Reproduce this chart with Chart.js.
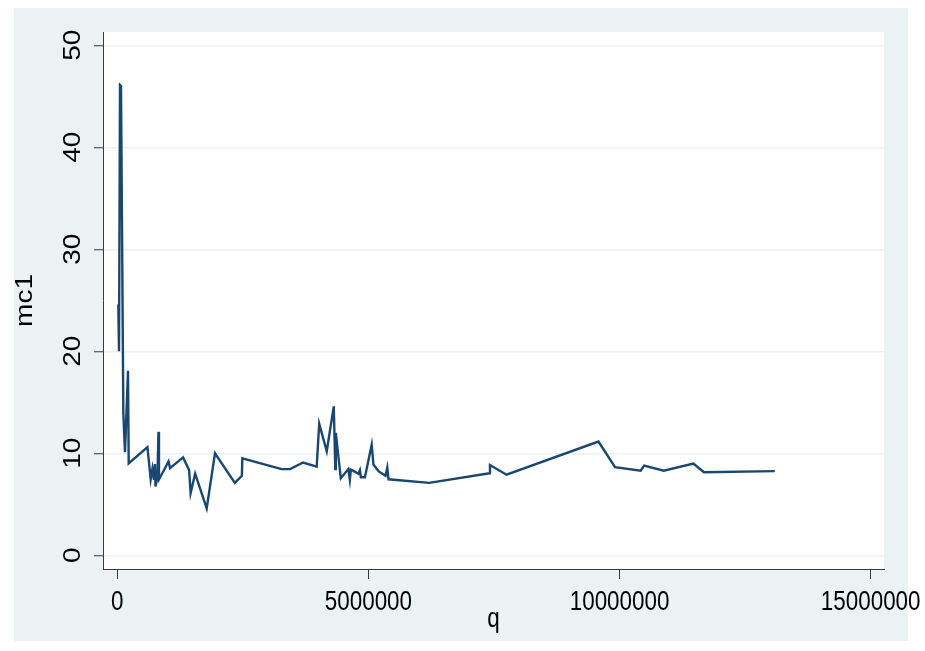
<!DOCTYPE html>
<html>
<head>
<meta charset="utf-8">
<script src="https://cdn.jsdelivr.net/npm/chart.js@4"></script>
<style>
  html, body { margin: 0; padding: 0; background: #ffffff; }
  #wrap { width: 925px; height: 651px; }
</style>
</head>
<body>
<div id="wrap"><canvas id="c" width="925" height="651"></canvas></div>
<script>
// output q and marginal cost mc1, sorted by q
const qValues = [
  20000, 34000, 54000, 74000, 120000, 153000, 213000, 227000,
  600000, 665000, 700000, 730000, 750000, 760000, 800000, 820000, 830000, 880000,
  1020000, 1050000, 1310000, 1430000, 1460000, 1550000, 1780000, 1945000,
  2340000, 2480000, 2490000, 3270000, 3440000, 3700000, 3970000, 4020000,
  4170000, 4310000, 4340000, 4350000, 4450000, 4600000, 4630000, 4650000,
  4730000, 4800000, 4830000, 4850000, 4930000, 5065000, 5100000, 5200000,
  5340000, 5375000, 5400000, 6210000, 7410000, 7420000, 7750000, 9580000,
  9910000, 10420000, 10490000, 10880000, 11470000, 11680000, 13090000
];
const mc1Values = [
  24.6, 20.0, 46.1, 46.0, 13.9, 10.1, 18.1, 9.0,
  10.6, 7.45, 8.5, 7.4, 8.95, 6.75, 7.9, 12.1, 7.45, 7.9,
  9.2, 8.55, 9.6, 8.35, 6.1, 8.0, 4.6, 10.0,
  7.1, 7.8, 9.5, 8.45, 8.45, 9.1, 8.7, 12.9,
  10.2, 14.6, 8.45, 12.0, 7.55, 8.45, 7.4, 8.4,
  8.2, 8.0, 8.35, 7.65, 7.65, 10.85, 8.9, 8.25,
  7.8, 8.6, 7.45, 7.1, 8.05, 8.85, 7.9, 11.15,
  8.65, 8.3, 8.8, 8.3, 9.0, 8.15, 8.25
];
const xTickValues = [0, 5000000, 10000000, 15000000];
const yTickValues = [0, 10, 20, 30, 40, 50];
const xTitle = 'q';
const yTitle = 'mc1';

const PANEL = '#eaf2f3';
const LINE = '#1a476f';
const AXIS = '#3a3a3a';
const FONT = '"Liberation Sans", Arial, Helvetica, sans-serif';
const FONT_SIZE = 27;
const SQUEEZE = 0.83;

const points = qValues.map((q, i) => ({ x: q, y: mc1Values[i] }));

// graph region, plot region and the hand-placed axis text
const stataLook = {
  id: 'stataLook',
  beforeDraw(chart) {
    const ctx = chart.ctx;
    const a = chart.chartArea;
    ctx.save();
    ctx.fillStyle = '#ffffff';
    ctx.fillRect(0, 0, chart.width, chart.height);
    ctx.fillStyle = PANEL;
    ctx.fillRect(14, 8, 894, 633);
    ctx.fillStyle = '#ffffff';
    ctx.fillRect(a.left, a.top, a.right - a.left, a.bottom - a.top);
    ctx.restore();
  },
  afterDraw(chart) {
    const ctx = chart.ctx;
    const xs = chart.scales.x;
    const ys = chart.scales.y;
    const a = chart.chartArea;
    ctx.save();
    ctx.fillStyle = '#000000';
    ctx.font = FONT_SIZE + 'px ' + FONT;
    ctx.textAlign = 'center';
    ctx.textBaseline = 'alphabetic';

    xs.ticks.forEach(t => {
      const px = xs.getPixelForValue(t.value);
      ctx.save();
      ctx.translate(px, 610);
      ctx.scale(SQUEEZE, 1);
      ctx.fillText(String(t.value), 0, 0);
      ctx.restore();
    });

    ctx.font = (FONT_SIZE + 1) + 'px ' + FONT;
    ys.ticks.forEach(t => {
      const py = ys.getPixelForValue(t.value);
      ctx.save();
      ctx.translate(80, py);
      ctx.scale(SQUEEZE, 1);
      ctx.rotate(-Math.PI / 2);
      ctx.fillText(String(t.value), 0, 0);
      ctx.restore();
    });

    ctx.save();
    ctx.font = FONT_SIZE + 'px ' + FONT;
    ctx.translate((a.left + a.right) / 2, 627);
    ctx.scale(SQUEEZE, 1);
    ctx.fillText(xTitle, 0, 0);
    ctx.restore();

    ctx.save();
    ctx.font = (FONT_SIZE + 1) + 'px ' + FONT;
    ctx.translate(32, (a.top + a.bottom) / 2);
    ctx.scale(SQUEEZE, 1);
    ctx.rotate(-Math.PI / 2);
    ctx.fillText(yTitle, 0, 0);
    ctx.restore();

    ctx.restore();
  }
};

new Chart(document.getElementById('c'), {
  type: 'line',
  data: {
    datasets: [{
      data: points,
      borderColor: LINE,
      borderWidth: 2.4,
      pointRadius: 0,
      fill: false,
      tension: 0
    }]
  },
  options: {
    responsive: false,
    devicePixelRatio: 1,
    animation: false,
    layout: { padding: { left: 0, right: 41, top: 32, bottom: 0 } },
    plugins: { legend: { display: false }, tooltip: { enabled: false } },
    scales: {
      x: {
        type: 'linear',
        min: -284700,
        max: 15265000,
        afterBuildTicks: s => { s.ticks = xTickValues.map(v => ({ value: v })); },
        afterFit: s => { s.height = 82; },
        ticks: { display: false },
        grid: { drawOnChartArea: false, drawTicks: true, tickLength: 10, tickColor: AXIS, tickWidth: 1 },
        border: { display: true, color: AXIS, width: 1 }
      },
      y: {
        type: 'linear',
        min: -1.343,
        max: 51.304,
        afterBuildTicks: s => { s.ticks = yTickValues.map(v => ({ value: v })); },
        afterFit: s => { s.width = 103; },
        ticks: { display: false },
        grid: { color: PANEL, lineWidth: 1.5, drawTicks: true, tickLength: 9, tickColor: AXIS, tickWidth: 1 },
        border: { display: true, color: AXIS, width: 1 }
      }
    }
  },
  plugins: [stataLook]
});
</script>
</body>
</html>
